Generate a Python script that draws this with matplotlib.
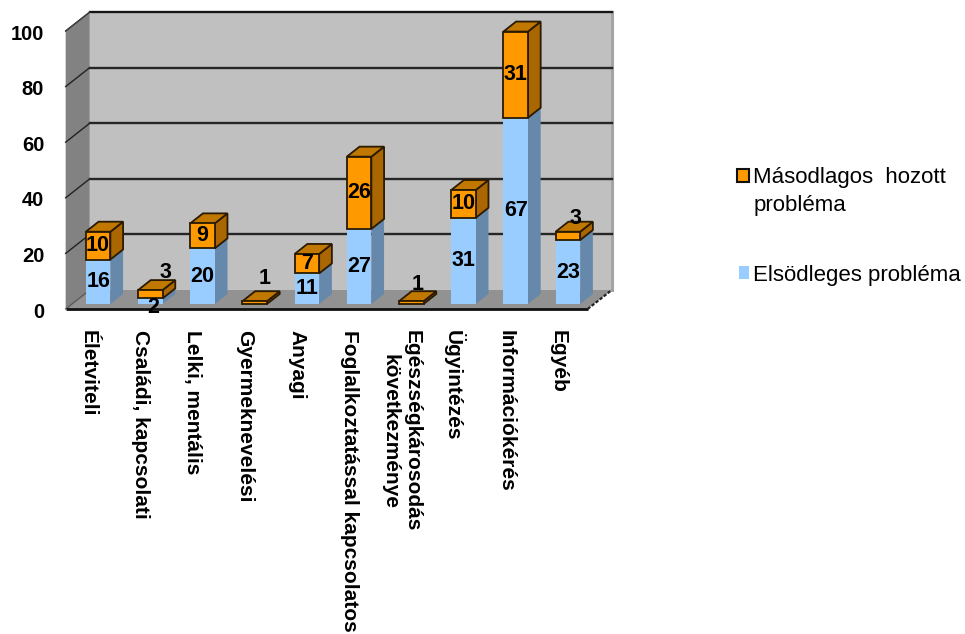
import matplotlib
matplotlib.use("Agg")
import matplotlib.pyplot as plt
from matplotlib.patches import Polygon, Patch, Rectangle
from matplotlib.legend_handler import HandlerPatch
from matplotlib.transforms import ScaledTranslation

categories = ["Életviteli", "Családi, kapcsolati", "Lelki, mentális", "Gyermeknevelési",
              "Anyagi", "Foglalkoztatással kapcsolatos", "Egészségkárosodás\nkövetkezménye",
              "Ügyintézés", "Információkérés", "Egyéb"]
primary = [16, 2, 20, 0, 11, 27, 0, 31, 67, 23]
secondary = [10, 3, 9, 1, 7, 26, 1, 10, 31, 3]
y_ticks = [0, 20, 40, 60, 80, 100]
primary_name = "Elsödleges probléma"
secondary_name = "Másodlagos  hozott\nprobléma"

plt.rcParams['font.family'] = ['Liberation Sans', 'DejaVu Sans']
W, H = 965, 634
fig = plt.figure(figsize=(W / 100, H / 100), dpi=100)
L, R, B, T = 72, 594, 304, 26   # plot box in pixels (bar plane)
ax = fig.add_axes([L / W, 1 - B / H, (R - L) / W, (B - T) / H])
ax.set_xlim(-0.5, 9.5)
ax.set_ylim(0, 100)
for s in ax.spines.values():
    s.set_visible(False)
ax.patch.set_visible(False)

UX = (R - L) / 10
UY = (B - T) / 100
SLOPE = 1.27


def shift(c, v, depth):
    """Oblique projection: depth in pixels towards the back."""
    return (c + depth * SLOPE / UX, v + depth / UY)


def poly(points, **kw):
    kw.setdefault('clip_on', False)
    ax.add_patch(Polygon(points, closed=True, **kw))


FRONT, BACK = -5, 14
x0, x1 = -0.5, 9.5
# walls and floor
poly([shift(x0, 0, BACK), shift(x1, 0, BACK), shift(x1, 100, BACK), shift(x0, 100, BACK)],
     fc='#c0c0c0', ec='none', zorder=1)
poly([shift(x0, 0, FRONT), shift(x0, 0, BACK), shift(x0, 100, BACK), shift(x0, 100, FRONT)],
     fc='#828282', ec='none', zorder=1)
poly([shift(x0, 0, FRONT), shift(x1, 0, FRONT), shift(x1, 0, BACK), shift(x0, 0, BACK)],
     fc='#929292', ec='none', zorder=1.5)
ax.plot(*zip(shift(x1, 0, BACK), shift(x1, 100, BACK)), color='#a4a4a4', lw=2.2, clip_on=False, zorder=1.6)

# grid
for v in y_ticks:
    xs, ys = zip(shift(x0, v, FRONT), shift(x0, v, BACK), shift(x1, v, BACK))
    if v == 0:
        xs, ys = zip(shift(x0, v, FRONT), shift(x0, v, BACK))
        ax.plot(xs, ys, color='#555555', lw=0.9, clip_on=False, zorder=1.7)
    else:
        ax.plot(xs[:2], ys[:2], color='#222222', lw=1, clip_on=False, zorder=1.7)
        ax.plot(xs[1:], ys[1:], color='#262626', lw=1.7, clip_on=False, zorder=1.7)
ax.plot(*zip(shift(x0, 100, BACK), shift(x1, 100, BACK)), color='#111111', lw=1.1, clip_on=False, zorder=1.7)
ax.plot(*zip(shift(x0, 100, FRONT), shift(x0, 100, BACK)), color='#444444', lw=0.8, clip_on=False, zorder=1.7)
ax.plot(*zip(shift(x0, 0, FRONT), shift(x1, 0, FRONT)), color='#111111', lw=2, clip_on=False, zorder=1.8,
        solid_capstyle='butt')
ax.plot(*zip(shift(x1, 0, FRONT), shift(x1, 0, BACK)), color='#222222', lw=1.6, ls=(0, (1.5, 0.8)),
        clip_on=False, zorder=1.8)

# bars
BAR = 0.235
DEPTH = 10
pos = list(range(len(categories)))


def box(c, b, h, front, side, top, edge, z, lw):
    ax.bar(c, h, width=2 * BAR, bottom=b, color=front, edgecolor=edge, linewidth=lw, zorder=z + .2, clip_on=False)
    l, r, t = c - BAR, c + BAR, b + h
    poly([(r, b), shift(r, b, DEPTH), shift(r, t, DEPTH), (r, t)], fc=side, ec=edge, lw=lw, zorder=z)
    poly([(l, t), (r, t), shift(r, t, DEPTH), shift(l, t, DEPTH)], fc=top, ec=edge, lw=lw, zorder=z + .1)


for i in pos:
    z = 3 + i
    if primary[i] > 0:
        box(i, 0, primary[i], '#99ccff', '#6688aa', '#7fa8d0', 'none', z, 0)
    box(i, primary[i], secondary[i], '#ff9900', '#aa6600', '#c07800', '#2a1a00', z + .4, 1.3)

# data labels: small segments sit off the bar (pixel nudges by category)
nudges = {(1, 'p'): (3, -6), (1, 's'): (15, 22), (3, 's'): (10, 24), (6, 's'): (6, 18), (9, 's'): (8, 17)}
for i in pos:
    for key, b, h in (('p', 0, primary[i]), ('s', primary[i], secondary[i])):
        if h == 0:
            continue
        dx, dy = nudges.get((i, key), (0, 0))
        ax.annotate(str(h), (i, b + h / 2), xytext=(dx * .72, dy * .72), textcoords='offset points',
                    ha='center', va='center', fontsize=15.5, fontweight='bold', color='black',
                    zorder=40, annotation_clip=False)

# axis labels
ax.set_yticks(y_ticks)
ax.set_xticks(pos)
ax.set_xticklabels(categories, rotation=-90, ha='center', va='top', fontsize=15, fontweight='bold',
                   linespacing=1.2, multialignment='center')
ax.tick_params(axis='both', length=0)
ax.tick_params(axis='y', pad=20, labelsize=14.5)
ax.tick_params(axis='x', pad=19)
for lab in ax.get_yticklabels():
    lab.set_fontweight('bold')
    lab.set_transform(lab.get_transform() + ScaledTranslation(0, -6 / 100, fig.dpi_scale_trans))
for lab in ax.get_xticklabels():
    lab.set_transform(lab.get_transform() + ScaledTranslation(-10 / 100, 0, fig.dpi_scale_trans))


# legend: the first swatch lines up with the first of its two text lines
def raised_swatch(legend, orig_handle, xdescent, ydescent, width, height, fontsize):
    return Rectangle((-xdescent, -ydescent + 11.5), width, height)


def plain_swatch(legend, orig_handle, xdescent, ydescent, width, height, fontsize):
    return Rectangle((-xdescent + 1.4, -ydescent), width - 1.4, height)


handles = [Patch(fc='#ff9900', ec='#111111', lw=1.5), Patch(fc='#99ccff', ec='none')]
fig.legend(handles, [secondary_name, primary_name], loc='upper left', bbox_to_anchor=(737 / W, 1 - 167 / H),
           bbox_transform=fig.transFigure, frameon=False, fontsize=16, handlelength=0.54, handleheight=0.53,
           handletextpad=0.2, labelspacing=2.2, borderaxespad=0, borderpad=0,
           handler_map={handles[0]: HandlerPatch(patch_func=raised_swatch),
                        handles[1]: HandlerPatch(patch_func=plain_swatch)})
for t in fig.legends[0].get_texts():
    t.set_linespacing(1.42)

fig.savefig("out.png", dpi=100, facecolor='white')
